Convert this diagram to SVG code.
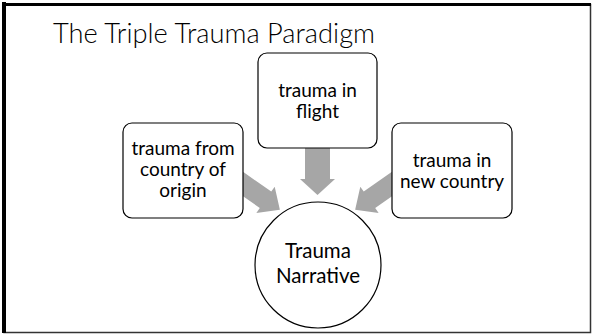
<svg xmlns="http://www.w3.org/2000/svg" width="592" height="335" viewBox="0 0 592 335">
<style>
.box{fill:#fff;stroke:#000;stroke-width:1.2}
.arr{fill:#a6a6a6}
.t{font-family:Lato,"Open Sans","Liberation Sans",sans-serif;font-size:19px;fill:#000;text-anchor:middle}
.c{font-size:20.5px}
.title{font-family:Lato,"Open Sans","Liberation Sans",sans-serif;font-size:27px;font-weight:300;fill:#000}
</style>
<rect x="0" y="0" width="592" height="335" fill="#fff"/>
<g id="frame">
<rect x="4" y="4.5" width="586.5" height="328" fill="none" stroke="#333" stroke-width="1.5"/>
<line x1="4" y1="2" x2="4" y2="333" stroke="#000" stroke-width="4"/>
<line x1="2" y1="4.5" x2="591" y2="4.5" stroke="#000" stroke-width="3"/>
</g>
<text id="title" class="title" x="53" y="43" textLength="322" lengthAdjust="spacingAndGlyphs">The Triple Trauma Paradigm</text>
<g id="connectors">
<polygon class="arr" transform="translate(317.5,148) rotate(90)" points="-10,-12.5 31,-12.5 31,-17.5 47,0 31,17.5 31,12.5 -10,12.5"/>
<polygon class="arr" transform="translate(243,184) rotate(35)" points="-10,-10 27.5,-10 27.5,-16 45,0 27.5,16 27.5,10 -10,10"/>
<polygon class="arr" transform="translate(392,184) rotate(145)" points="-10,-10 27.5,-10 27.5,-16 45,0 27.5,16 27.5,10 -10,10"/>
</g>
<g id="node-origin">
<rect class="box" x="123" y="123" width="120" height="95" rx="9"/>
<text class="t" x="183" y="155">trauma from</text>
<text class="t" x="183" y="176">country of</text>
<text class="t" x="183" y="197">origin</text>
</g>
<g id="node-flight">
<rect class="box" x="258" y="53" width="119" height="95" rx="9"/>
<text class="t" x="317.5" y="97">trauma in</text>
<text class="t" x="317.5" y="118">flight</text>
</g>
<g id="node-new">
<rect class="box" x="392" y="123" width="120" height="95" rx="9"/>
<text class="t" x="452" y="167">trauma in</text>
<text class="t" x="452" y="188">new country</text>
</g>
<g id="node-narrative">
<circle class="box" cx="318" cy="265" r="63"/>
<text class="t c" x="318" y="258">Trauma</text>
<text class="t c" x="318" y="283">Narrative</text>
</g>
</svg>
